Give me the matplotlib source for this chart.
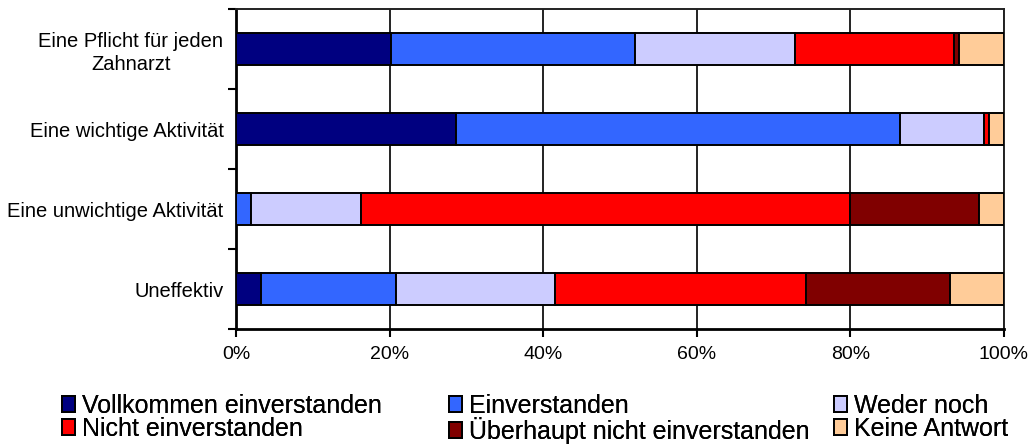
import matplotlib
matplotlib.use("Agg")
import matplotlib.pyplot as plt
from matplotlib import font_manager
import numpy as np

categories = ["Eine Pflicht für jeden\nZahnarzt", "Eine wichtige Aktivität",
              "Eine unwichtige Aktivität", "Uneffektiv"]
series_names = ["Vollkommen einverstanden", "Einverstanden", "Weder noch",
                "Nicht einverstanden", "Überhaupt nicht einverstanden", "Keine Antwort"]
vollkommen = [20.2, 28.6, 0.0, 3.3]
einverstanden = [31.8, 57.9, 2.0, 17.5]
weder_noch = [20.8, 10.9, 14.3, 20.8]
nicht = [20.7, 0.6, 63.6, 32.6]
ueberhaupt_nicht = [0.6, 0.0, 16.9, 18.8]
keine_antwort = [5.9, 2.0, 3.2, 7.0]
x_ticks = [0, 20, 40, 60, 80, 100]
x_tick_labels = ["0%", "20%", "40%", "60%", "80%", "100%"]

colors = ["#000080", "#3366FF", "#CCCCFF", "#FF0000", "#800000", "#FFCC99"]

installed = {f.name for f in font_manager.fontManager.ttflist}
base_font = "Liberation Sans" if "Liberation Sans" in installed else "DejaVu Sans"
plt.rcParams["font.family"] = [base_font, "DejaVu Sans"]

W, H = 1033, 444
fig = plt.figure(figsize=(W / 100, H / 100), dpi=100)
ax = fig.add_axes([236 / W, 1 - 329 / H, (1004 - 236) / W, (329 - 9) / H])

series = [vollkommen, einverstanden, weder_noch, nicht, ueberhaupt_nicht, keine_antwort]
y = np.arange(len(categories))
left = np.zeros(len(categories))
handles = []
for name, vals, col in zip(series_names, series, colors):
    vals = np.array(vals)
    h = ax.barh(y, vals, left=left, height=0.4, color=col, edgecolor="black",
                linewidth=1.4, label=name, zorder=3)
    handles.append(h)
    left += vals

ax.set_xlim(0, 100)
ax.set_ylim(3.5, -0.5)
ax.set_xticks(x_ticks)
ax.set_xticklabels(x_tick_labels, fontsize=14)
ax.set_yticks(y)
ax.set_yticklabels(categories, fontsize=14.5, multialignment="center", linespacing=1.25)
ax.set_yticks(np.arange(-0.5, 4.0, 1.0), minor=True)
ax.tick_params(axis="y", which="major", length=0, pad=9)
ax.tick_params(axis="y", which="minor", length=6, width=1.5, direction="out")
ax.tick_params(axis="x", which="major", length=6, width=1.5, direction="out", pad=6)
ax.xaxis.grid(True, color="#222222", linewidth=1.4, zorder=0)
ax.set_axisbelow(True)
for side in ["left", "bottom"]:
    ax.spines[side].set_linewidth(2.0)
    ax.spines[side].set_color("black")
for side in ["top", "right"]:
    ax.spines[side].set_linewidth(1.4)
    ax.spines[side].set_color("#222222")

# legend: three columns of two entries, each column placed on its own
col_x = [62, 449, 834]
columns = [[0, 3], [1, 4], [2, 5]]
for cx, idx in zip(col_x, columns):
    lg = fig.legend([handles[i] for i in idx], [series_names[i] for i in idx],
                    loc="upper left", bbox_to_anchor=(cx / W, 1 - 394 / H),
                    frameon=False, prop={"size": 18},
                    handlelength=0.52, handleheight=0.6, handletextpad=0.28,
                    labelspacing=-0.05, borderpad=0, borderaxespad=0)
    fig.add_artist(lg)

fig.savefig("out.png", dpi=100)
